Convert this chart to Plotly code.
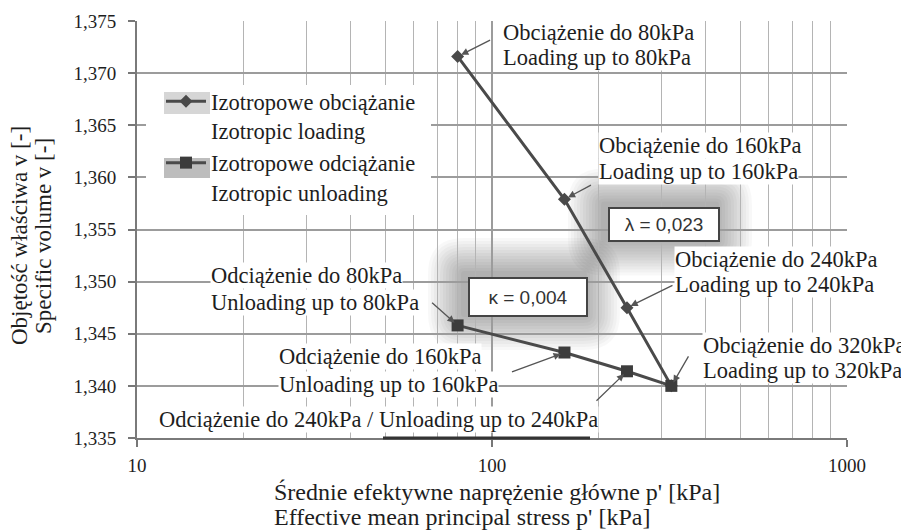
import plotly.graph_objects as go
import math

# ---------------- data ----------------
p_loading = [80, 160, 240, 320]
v_loading = [1.3716, 1.3579, 1.3475, 1.3400]
p_unloading = [80, 160, 240, 320]
v_unloading = [1.3458, 1.3432, 1.3414, 1.3400]

series_names = ["Izotropowe obciążanie<br>Izotropic loading",
                "Izotropowe odciążanie<br>Izotropic unloading"]

y_tickvals = [1.335, 1.340, 1.345, 1.350, 1.355, 1.360, 1.365, 1.370, 1.375]
y_ticktext = ["1,335", "1,340", "1,345", "1,350", "1,355", "1,360", "1,365", "1,370", "1,375"]
x_tickvals = [10, 100, 1000]
x_ticktext = ["10", "100", "1000"]
x_minor = [20, 30, 40, 50, 60, 70, 80, 90, 200, 300, 400, 500, 600, 700, 800, 900]

label_texts = {
    "L80": ["Obciążenie do 80kPa", "Loading up to 80kPa"],
    "L160": ["Obciążenie do 160kPa", "Loading up to 160kPa"],
    "L240": ["Obciążenie do 240kPa", "Loading up to 240kPa"],
    "L320": ["Obciążenie do 320kPa", "Loading up to 320kPa"],
    "U80": ["Odciążenie do 80kPa", "Unloading up to 80kPa"],
    "U160": ["Odciążenie do 160kPa", "Unloading up to 160kPa"],
    "U240": ["Odciążenie do 240kPa / Unloading up to 240kPa"],
}
lambda_text = "λ = 0,023"
kappa_text = "κ = 0,004"
x_title = ["Średnie efektywne naprężenie główne p' [kPa]", "Effective mean principal stress p' [kPa]"]
y_title = ["Objętość właściwa v [-]", "Specific volume v [-]"]

# ---------------- layout geometry (page pixels) ----------------
PAGE_W, PAGE_H = 909, 530
OFF = 8  # default body margin of the html page
W, H = PAGE_W - OFF, PAGE_H - OFF
L, R, T, B = 137, 847, 21, 438


def px(x):
    return (x - L) / (R - L)


def py(y):
    return (B - y) / (B - T)


SERIF = "Liberation Serif, Times New Roman, serif"
TXT = "#1e1e1e"
LINEC = "#4a4a4a"
FS = 22.5

fig = go.Figure()
fig.add_trace(go.Scatter(x=p_loading, y=v_loading, mode="lines+markers", name=series_names[0],
                         line=dict(color=LINEC, width=3),
                         marker=dict(symbol="diamond", size=10, color=LINEC)))
fig.add_trace(go.Scatter(x=p_unloading, y=v_unloading, mode="lines+markers", name=series_names[1],
                         line=dict(color=LINEC, width=3),
                         marker=dict(symbol="square", size=12, color="#3c3c3c")))

annotations = []
shapes = []

# label text placement: key -> (left px, [baselines])
label_pos = {
    "L80": (502, [40, 65]),
    "L160": (598, [153, 179]),
    "L240": (674, [267, 292]),
    "L320": (702, [353, 378]),
    "U80": (210, [283, 310]),
    "U160": (278, [364, 392]),
    "U240": (158, [427]),
}
for key, lines in label_texts.items():
    left, bases = label_pos[key]
    for t, b in zip(lines, bases):
        annotations.append(dict(xref="paper", yref="paper", x=px(left), y=py(b - 0.338 * FS),
                                xanchor="left", yanchor="middle", text=t, showarrow=False,
                                font=dict(family=SERIF, size=FS, color=TXT),
                                bgcolor="white", borderpad=0))

# arrows: (series, index, ax, ay)
arrows = [
    (p_loading, v_loading, 0, 34, -17),
    (p_loading, v_loading, 1, 28, -15),
    (p_loading, v_loading, 2, 47, -23),
    (p_loading, v_loading, 3, 18, -31),
    (p_unloading, v_unloading, 0, -27, -24),
    (p_unloading, v_unloading, 1, -54, 20),
    (p_unloading, v_unloading, 2, -32, 31),
]
for pp, vv, i, ax, ay in arrows:
    annotations.append(dict(x=math.log10(pp[i]), y=vv[i], xref="x", yref="y", ax=ax, ay=ay,
                            text="", showarrow=True, arrowhead=2, arrowsize=1.1, arrowwidth=1.3,
                            arrowcolor="#555", standoff=4))


def rounded_rect(x0, y0, x1, y1, r):
    # page pixel coords -> paper path with rounded corners
    def P(x, y):
        return f"{px(x):.5f},{py(y):.5f}"
    return (f"M {P(x0 + r, y0)} L {P(x1 - r, y0)} Q {P(x1, y0)} {P(x1, y0 + r)} "
            f"L {P(x1, y1 - r)} Q {P(x1, y1)} {P(x1 - r, y1)} L {P(x0 + r, y1)} "
            f"Q {P(x0, y1)} {P(x0, y1 - r)} L {P(x0, y0 + r)} Q {P(x0, y0)} {P(x0 + r, y0)} Z")


# lambda / kappa boxes with soft glow
boxes = [(lambda_text, 664, 225, 112, 35), (kappa_text, 528, 297, 120, 40)]
for text, cx, cy, bw, bh in boxes:
    gx, gy = cx - 4, cy - 3
    for k in range(12, 0, -1):
        d = 3 * k
        shapes.append(dict(type="path", xref="paper", yref="paper", layer="below",
                           path=rounded_rect(gx - bw / 2 - d, gy - bh / 2 - d,
                                             gx + bw / 2 + d, gy + bh / 2 + d, d),
                           fillcolor="rgba(0,0,0,0.026)", line=dict(width=0)))
    annotations.append(dict(xref="paper", yref="paper", x=px(cx), y=py(cy), xanchor="center",
                            yanchor="middle", text=text, showarrow=False,
                            font=dict(family="Liberation Sans Narrow, Arial Narrow, Liberation Sans, sans-serif",
                                      size=19, color="#333"),
                            width=bw - 6, height=bh - 6, borderpad=1, borderwidth=2,
                            bordercolor="#444", bgcolor="white"))

# legend backdrop and symbol boxes
shapes.append(dict(type="rect", xref="paper", yref="paper", layer="above",
                   x0=px(146), x1=px(431), y0=py(215), y1=py(85),
                   fillcolor="white", line=dict(width=0)))
shapes.append(dict(type="rect", xref="paper", yref="paper", layer="above",
                   x0=px(164), x1=px(210), y0=py(114), y1=py(92),
                   fillcolor="#d6d6d6", line=dict(width=0)))
shapes.append(dict(type="rect", xref="paper", yref="paper", layer="above",
                   x0=px(164), x1=px(210), y0=py(178), y1=py(158),
                   fillcolor="#bdbdbd", line=dict(width=0)))

# dark segment on the bottom axis
shapes.append(dict(type="line", xref="paper", yref="paper", layer="above",
                   x0=px(383), x1=px(590), y0=0, y1=0, line=dict(color="#333", width=3)))

# axis titles
for t, b in zip(x_title, [500, 525]):
    annotations.append(dict(xref="paper", yref="paper", x=px(272), y=py(b - 0.338 * 24),
                            xanchor="left", yanchor="middle", text=t, showarrow=False,
                            font=dict(family=SERIF, size=24, color=TXT)))
for t, cx in zip(y_title, [19, 43]):
    annotations.append(dict(xref="paper", yref="paper", x=px(cx), y=py(236),
                            xanchor="center", yanchor="middle", text=t, showarrow=False,
                            textangle=-90, font=dict(family=SERIF, size=23, color=TXT)))

fig.update_layout(
    width=W, height=H,
    margin=dict(l=L - OFF, r=PAGE_W - R, t=T - OFF, b=PAGE_H - B, autoexpand=False),
    plot_bgcolor="white", paper_bgcolor="white",
    showlegend=True,
    legend=dict(x=px(161), y=py(80), xanchor="left", yanchor="top",
                bgcolor="rgba(0,0,0,0)", valign="top", itemwidth=40,
                font=dict(family=SERIF, size=FS, color=TXT), tracegroupgap=0),
    annotations=annotations,
    shapes=shapes,
)
fig.update_xaxes(type="log", range=[1, 3], tickvals=x_tickvals, ticktext=x_ticktext,
                 showgrid=True, gridcolor="#9c9c9c", gridwidth=1.5, automargin=False,
                 minor=dict(tickvals=x_minor, showgrid=True, gridcolor="#b4b4b4", gridwidth=1, ticks=""),
                 ticks="outside", ticklen=7, tickcolor="#777", tickwidth=1.5,
                 showline=True, linecolor="#7a7a7a", linewidth=2, zeroline=False,
                 tickfont=dict(family=SERIF, size=19, color=TXT), ticklabelstandoff=2)
fig.update_yaxes(range=[1.335, 1.375], tickvals=y_tickvals, ticktext=y_ticktext,
                 showgrid=True, gridcolor="#9c9c9c", gridwidth=1.5, automargin=False,
                 ticks="outside", ticklen=7, tickcolor="#777", tickwidth=1.5,
                 showline=True, linecolor="#7a7a7a", linewidth=2, zeroline=False,
                 tickfont=dict(family=SERIF, size=19, color=TXT), ticklabelstandoff=8)

fig.write_html("out.html")
